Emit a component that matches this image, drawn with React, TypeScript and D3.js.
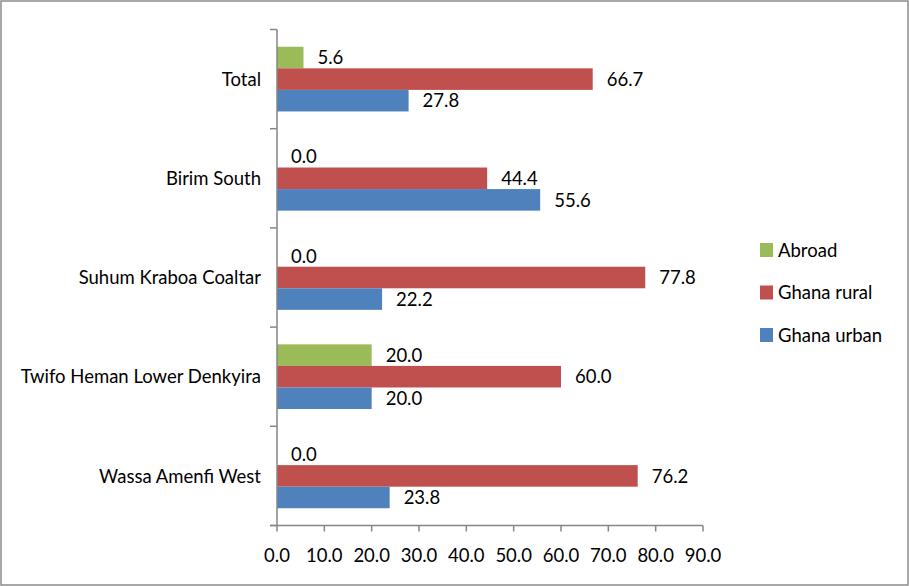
import React from "react";
import * as d3 from "d3";

const categories = [
  "Total",
  "Birim South",
  "Suhum Kraboa Coaltar",
  "Twifo Heman Lower Denkyira",
  "Wassa Amenfi West",
];
const seriesNames = ["Abroad", "Ghana rural", "Ghana urban"];
const abroad = [5.6, 0.0, 0.0, 20.0, 0.0];
const ghanaRural = [66.7, 44.4, 77.8, 60.0, 76.2];
const ghanaUrban = [27.8, 55.6, 22.2, 20.0, 23.8];
const xTicks = [0, 10, 20, 30, 40, 50, 60, 70, 80, 90];
const colors = ["#9BBB59", "#C0504D", "#4F81BD"];

const W = 909;
const H = 586;
const FONT = "Lato, 'Open Sans', sans-serif";
const FS = 18.5;

export default function App() {
  const values = [abroad, ghanaRural, ghanaUrban];
  const plotLeft = 277;
  const plotRight = 703;
  const plotTop = 29.5;
  const plotBottom = 525.5;

  const x = d3.scaleLinear().domain([0, 90]).range([plotLeft, plotRight]);
  const y = d3.scaleBand<string>().domain(categories).range([plotTop, plotBottom]).paddingInner(0).paddingOuter(0);
  // three bars per category, with a gap of 0.8 bar heights above and below the group
  const inner = d3
    .scaleBand<string>()
    .domain(seriesNames)
    .range([0, y.bandwidth()])
    .paddingInner(0)
    .paddingOuter(0.8);

  const axisColor = "#868686";
  const boundaries = categories.map((c) => y(c)!).concat([plotBottom]);

  return (
    <div style={{ position: "fixed", left: 0, top: 0 }}>
      <svg width={W} height={H} style={{ display: "block", background: "#fff" }}>
        <rect x={1} y={1} width={W - 2} height={H - 2} fill="#fff" stroke="#8c8c8c" strokeWidth={1.5} />

        {/* bars and value labels */}
        {categories.map((cat, ci) =>
          seriesNames.map((s, si) => {
            const v = values[si][ci];
            const by = y(cat)! + inner(s)!;
            const bh = inner.bandwidth();
            return (
              <g key={cat + s}>
                <rect x={x(0)} y={by} width={x(v) - x(0)} height={bh} fill={colors[si]} />
                <text
                  x={x(v) + 14}
                  y={by + bh / 2}
                  dy="0.36em"
                  fontFamily={FONT}
                  fontSize={FS}
                  fill="#000"
                >
                  {v.toFixed(1)}
                </text>
              </g>
            );
          })
        )}

        {/* y axis */}
        <line x1={plotLeft} x2={plotLeft} y1={plotTop} y2={plotBottom} stroke={axisColor} strokeWidth={1.5} />
        {boundaries.map((b, i) => (
          <line key={i} x1={plotLeft - 7} x2={plotLeft} y1={b} y2={b} stroke={axisColor} strokeWidth={1.5} />
        ))}
        {categories.map((cat) => (
          <text
            key={cat}
            x={261}
            y={y(cat)! + y.bandwidth() / 2}
            dy="0.36em"
            textAnchor="end"
            fontFamily={FONT}
            fontSize={FS}
            fill="#000"
          >
            {cat}
          </text>
        ))}

        {/* x axis */}
        <line x1={plotLeft - 7} x2={plotRight} y1={plotBottom} y2={plotBottom} stroke={axisColor} strokeWidth={1.5} />
        {xTicks.map((t) => (
          <g key={t}>
            <line x1={x(t)} x2={x(t)} y1={plotBottom} y2={plotBottom + 6} stroke={axisColor} strokeWidth={1.5} />
            <text
              x={x(t)}
              y={555}
              dy="0.36em"
              textAnchor="middle"
              fontFamily={FONT}
              fontSize={FS}
              fill="#000"
            >
              {t.toFixed(1)}
            </text>
          </g>
        ))}

        {/* legend */}
        {seriesNames.map((s, i) => {
          const cy = 250 + i * 42.5;
          return (
            <g key={s}>
              <rect x={760} y={cy - 7} width={13} height={14} fill={colors[i]} />
              <text x={778} y={cy} dy="0.36em" fontFamily={FONT} fontSize={FS} fill="#000">
                {s}
              </text>
            </g>
          );
        })}
      </svg>
    </div>
  );
}
